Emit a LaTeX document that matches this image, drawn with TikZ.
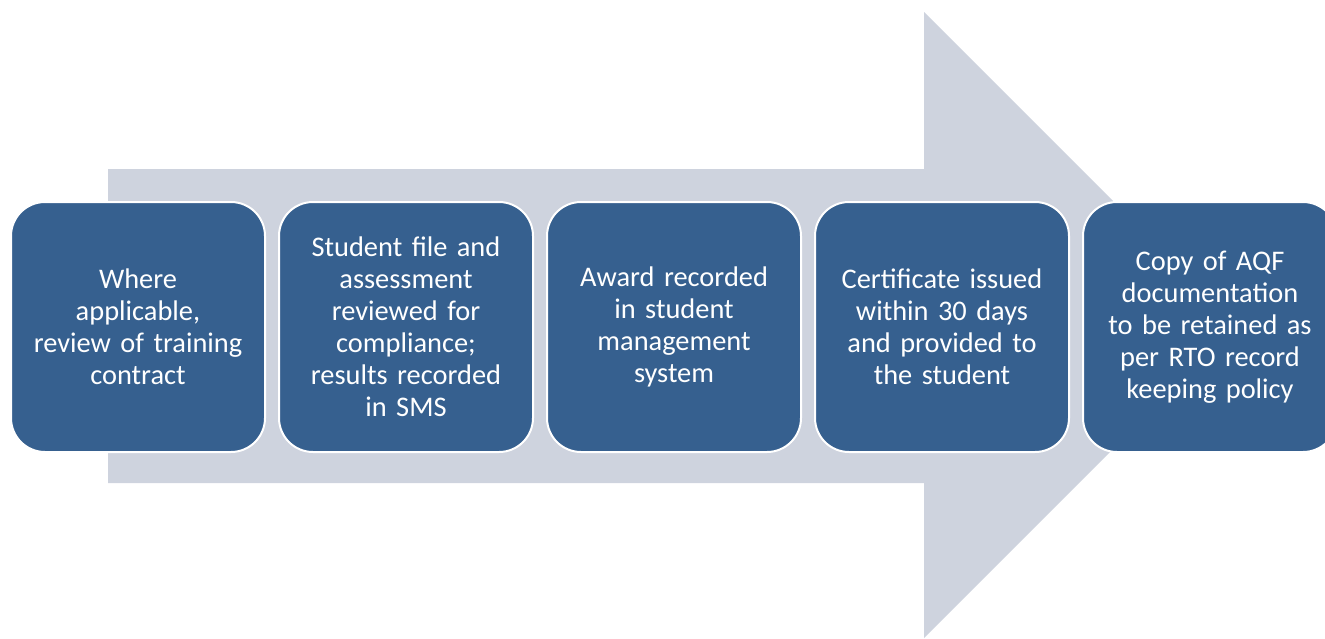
\documentclass[tikz,border=0pt]{standalone}
\usepackage{fontspec}
\setmainfont{Carlito}
\begin{document}
\begin{tikzpicture}[x=1pt,y=-1pt,
  stepbox/.style={draw=white, line width=2pt, fill=boxblue, rounded corners=34pt,
    minimum width=254pt, minimum height=250pt, text width=244pt, align=center,
    text=white, font=\fontsize{28.4}{32}\selectfont, inner sep=0pt},
  bigarrow/.style={fill=arrowgray, draw=none}]
\definecolor{boxblue}{RGB}{54,96,143}
\definecolor{arrowgray}{RGB}{206,211,222}
\useasboundingbox (0,0) rectangle (1325,638);
\clip (0,0) rectangle (1325,638);
\fill[arrowgray] (108,169) -- (924,169) -- (924,12) -- (1237,325) -- (924,638) -- (924,483) -- (108,483) -- cycle;
\node[stepbox] (s1) at (138,327) {Where\\applicable,\\review of training\\contract};
\node[stepbox] (s2) at (406,327) {Student file and\\assessment\\reviewed for\\compliance;\\results recorded\\in SMS};
\node[stepbox] (s3) at (674,327) {Award recorded\\in student\\management\\system};
\node[stepbox] (s4) at (942,327) {Certificate issued\\within 30 days\\and provided to\\the student};
\node[stepbox] (s5) at (1210,327) {Copy of AQF\\documentation\\to be retained as\\per RTO record\\keeping policy};
\end{tikzpicture}
\end{document}
